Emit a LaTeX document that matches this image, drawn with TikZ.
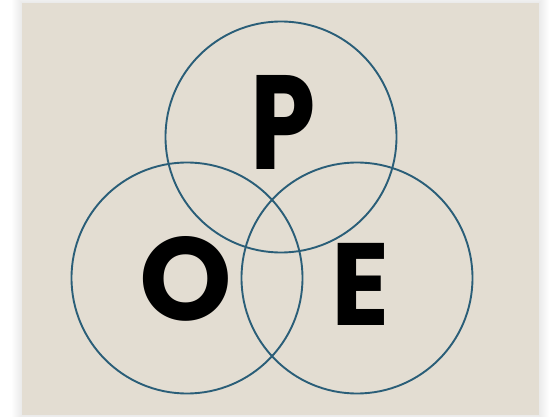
\documentclass[tikz,border=0pt]{standalone}
\usepackage{fontspec}
\newfontfamily\poefont{Poppins}
\definecolor{beige}{HTML}{E3DDD2}
\definecolor{ringcol}{HTML}{2A5E78}
\tikzset{
  ring/.style={circle, draw=ringcol, line width=1.9pt, minimum size=231pt, inner sep=0pt},
  letter/.style={anchor=base, inner sep=0pt, text=black, font=\poefont\bfseries}
}
\begin{document}
\begin{tikzpicture}[x=1pt,y=-1pt]
\useasboundingbox (0,0) rectangle (550,417);
\fill[white] (0,0) rectangle (550,417);
\foreach \i in {1,...,10}{
  \fill[black, opacity=0.008] (22-\i,3-\i) rectangle (539+\i,415+\i);
}
\fill[beige] (22,3) rectangle (539,415);
\node[ring] (cP) at (281,137) {};
\node[ring] (cO) at (187,278) {};
\node[ring] (cE) at (357,278) {};
\node[letter, xscale=0.78, font=\poefont\bfseries\fontsize{134}{134}\selectfont] (P) at (283,170) {P};
\node[letter, font=\poefont\bfseries\fontsize{118}{118}\selectfont] (O) at (186,321) {O};
\node[letter, xscale=0.92, font=\poefont\bfseries\fontsize{117}{117}\selectfont] (E) at (361,326) {E};
\end{tikzpicture}
\end{document}
